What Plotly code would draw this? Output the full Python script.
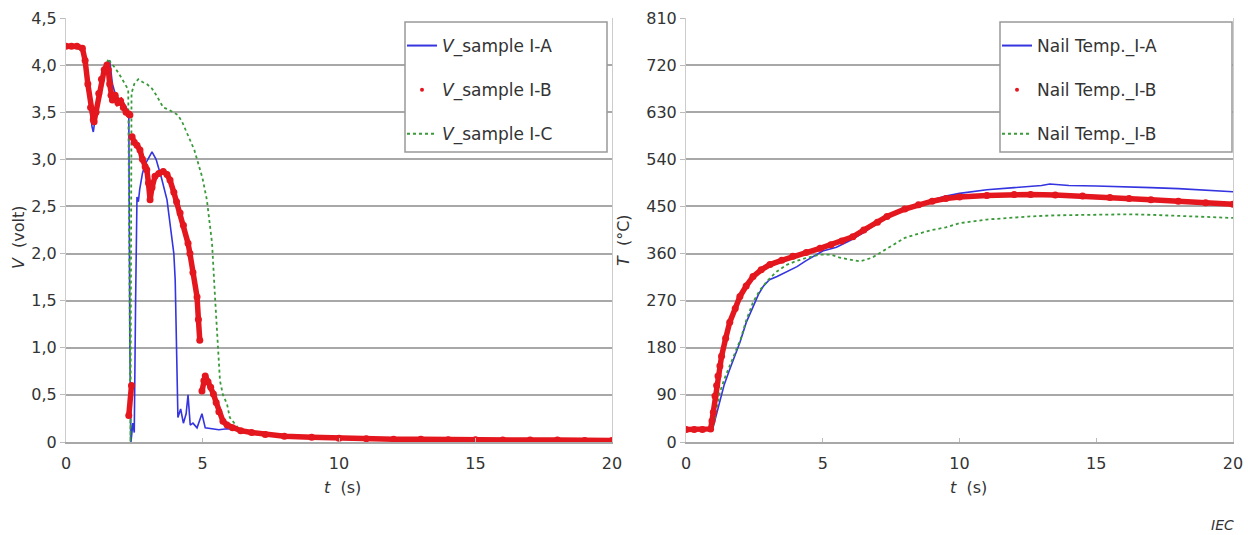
import plotly.graph_objects as go

# ---------------- data: left panel (voltage) ----------------
tA = [0, 0.3, 0.6, 0.8, 0.95, 1.0, 1.1, 1.3, 1.5, 1.6, 1.7, 1.8, 1.9, 2.0, 2.1, 2.2, 2.3, 2.34, 2.38, 2.45,
      2.5, 2.55, 2.6, 2.65, 2.7, 2.8, 2.9, 3.0, 3.15, 3.3, 3.5, 3.7, 3.9, 3.95, 4.0, 4.05, 4.1, 4.2, 4.3, 4.4,
      4.47, 4.55, 4.65, 4.8, 4.98, 5.1, 5.3, 5.6, 5.9, 6.2, 6.6, 7.0, 8, 9, 10, 12, 14, 16, 18, 20]
vA = [4.2, 4.2, 4.15, 3.8, 3.35, 3.29, 3.5, 3.8, 4.0, 4.05, 3.8, 3.7, 3.65, 3.62, 3.6, 3.55, 3.5, 1.0, 0.0, 0.2,
      0.1, 1.5, 2.6, 2.55, 2.68, 2.85, 2.95, 3.0, 3.08, 3.0, 2.8, 2.57, 2.1, 2.0, 1.72, 0.8, 0.26, 0.35, 0.2, 0.3,
      0.5, 0.18, 0.2, 0.15, 0.3, 0.15, 0.14, 0.13, 0.14, 0.13, 0.1, 0.08, 0.05, 0.04, 0.03, 0.02, 0.02, 0.02, 0.02, 0.02]

tB = [0, 0.2, 0.4, 0.6, 0.7, 0.8, 0.9, 1.0, 1.03, 1.1, 1.2, 1.3, 1.4, 1.5, 1.55, 1.6, 1.65, 1.7, 1.8, 1.9,
      2.0, 2.1, 2.2, 2.3, 2.34, None,
      2.30, 2.40, None,
      2.42, 2.5, 2.6, 2.71, 2.8, 2.9, 2.96, 3.02, 3.08, 3.15, 3.26, 3.4, 3.56, 3.7, 3.81, 3.95, 4.05, 4.18,
      4.3, 4.47, 4.54, 4.65, 4.8, 4.85, 4.9, None,
      4.98, 5.05, 5.1, 5.2, 5.3, 5.4, 5.5, 5.6, 5.75, 5.9, 6.1, 6.4, 6.8, 7.3, 8, 9, 10, 11, 12, 13, 14, 15,
      16, 17, 18, 19, 20]
vB = [4.2, 4.2, 4.2, 4.18, 4.05, 3.8, 3.55, 3.42, 3.4, 3.5, 3.7, 3.85, 3.95, 4.0, 3.95, 3.8, 3.68, 3.63, 3.68, 3.6,
      3.62, 3.55, 3.5, 3.48, 3.47, None,
      0.28, 0.6, None,
      3.24, 3.18, 3.15, 3.1, 3.0, 2.92, 2.89, 2.75, 2.57, 2.7, 2.82, 2.85, 2.87, 2.84, 2.78, 2.65, 2.55, 2.43,
      2.3, 2.11, 2.0, 1.8, 1.54, 1.3, 1.08, None,
      0.54, 0.65, 0.7, 0.64, 0.58, 0.51, 0.42, 0.32, 0.22, 0.18, 0.15, 0.12, 0.1, 0.08, 0.06, 0.05, 0.04, 0.035,
      0.03, 0.03, 0.025, 0.025, 0.02, 0.02, 0.02, 0.015, 0.015]

tC = [0, 0.3, 0.6, 0.8, 0.95, 1.03, 1.1, 1.3, 1.5, 1.55, 1.65, 1.8, 2.0, 2.15, 2.28, 2.33, 2.36, 2.40, 2.5,
      2.65, 2.8, 2.96, 3.15, 3.33, 3.56, 3.75, 3.92, 4.1, 4.25, 4.4, 4.54, 4.7, 4.84, 5.0, 5.16, 5.35, 5.45,
      5.58, 5.64, 5.75, 5.9, 6.0, 6.3, 6.7, 7.2, 8, 9, 10, 12, 14, 16, 18, 20]
vC = [4.2, 4.2, 4.15, 3.85, 3.5, 3.4, 3.55, 3.85, 4.02, 4.07, 4.02, 3.97, 3.88, 3.8, 3.74, 1.5, 0.0, 3.7, 3.8,
      3.85, 3.82, 3.8, 3.75, 3.67, 3.55, 3.53, 3.5, 3.47, 3.4, 3.3, 3.2, 3.1, 2.96, 2.8, 2.57, 2.11, 1.58,
      0.86, 0.65, 0.5, 0.4, 0.26, 0.15, 0.11, 0.09, 0.07, 0.05, 0.04, 0.03, 0.03, 0.02, 0.02, 0.02]

# ---------------- data: right panel (nail temperature) ----------------
sA = [0, 0.5, 0.9, 1.0, 1.1, 1.24, 1.4, 1.6, 1.8, 1.97, 2.2, 2.45, 2.65, 2.82, 3.05, 3.33, 3.7, 4.06, 4.35,
      4.65, 5.0, 5.5, 6.0, 6.5, 7.0, 7.5, 8.0, 8.5, 9.0, 9.5, 10, 11, 12, 13, 13.3, 14, 15, 16, 17, 18, 19, 20]
TA = [24, 24, 24, 30, 50, 82, 110, 139, 165, 190, 228, 259, 282, 297, 310, 316, 326, 335, 345,
      355, 365, 372, 385, 400, 418, 432, 445, 455, 463, 470, 475, 482, 486, 490, 493, 490, 489, 488, 486, 484, 481, 478]

sB = [0, 0.3, 0.6, 0.9, 0.95, 1.0, 1.06, 1.12, 1.17, 1.24, 1.3, 1.45, 1.6, 1.8, 1.97, 2.2, 2.45, 2.75, 3.07,
      3.5, 3.91, 4.4, 4.9, 5.3, 5.7, 6.1, 6.5, 7.0, 7.35, 8, 8.5, 9, 9.5, 10, 11, 12, 12.6, 13.5, 14.5, 15.5,
      16.2, 17, 18, 19, 20]
TB = [24, 24, 24, 25, 40, 57, 88, 108, 126, 145, 164, 198, 229, 255, 278, 298, 316, 329, 339,
      347, 355, 362, 370, 377, 384, 392, 405, 420, 431, 445, 453, 460, 465, 468, 471, 473, 473, 472, 470, 467,
      465, 463, 460, 457, 454]

sC = [0, 0.5, 0.9, 1.0, 1.1, 1.24, 1.4, 1.6, 1.8, 2.0, 2.2, 2.45, 2.7, 2.96, 3.3, 3.7, 4.05, 4.42, 4.9, 5.3,
      5.63, 6.0, 6.36, 6.8, 7.2, 7.6, 8, 8.5, 9, 9.5, 10, 11, 12, 12.6, 13.5, 14.5, 15.5, 16.2, 17, 18, 19, 20]
TC = [24, 24, 24, 30, 55, 95, 120, 145, 172, 197, 232, 267, 290, 307, 325, 339, 346, 352, 358, 358,
      352, 349, 345, 352, 365, 378, 390, 398, 405, 410, 418, 425, 429, 431, 433, 434, 435, 435, 434, 432, 430, 428]

x_ticks = [0, 5, 10, 15, 20]
v_ticks = [0, 0.5, 1.0, 1.5, 2.0, 2.5, 3.0, 3.5, 4.0, 4.5]
v_labels = ["0", "0,5", "1,0", "1,5", "2,0", "2,5", "3,0", "3,5", "4,0", "4,5"]
T_ticks = [0, 90, 180, 270, 360, 450, 540, 630, 720, 810]

names_left = ["<i>V</i>_sample I-A", "<i>V</i>_sample I-B", "<i>V</i>_sample I-C"]
names_right = ["Nail Temp._I-A", "Nail Temp._I-B", "Nail Temp._I-B"]

# ---------------- styling ----------------
W, H = 1248, 535
BLUE = "#3434e0"
RED = "#e4161e"
GREEN = "#3a9a3a"
GRID = "#a8a8a8"
TXT = "#333333"
FONT = "DejaVu Sans, Verdana, sans-serif"

def px(x):
    return x / W

def py(y):
    return 1 - y / H

fig = go.Figure()

def add_panel(xa, ya, legend, tb, yb, ta, yaa, tc, yc, names):
    fig.add_trace(go.Scatter(x=ta, y=yaa, mode="lines", line=dict(color=BLUE, width=1.6),
                             xaxis=xa, yaxis=ya, showlegend=False))
    fig.add_trace(go.Scatter(x=tc, y=yc, mode="lines", line=dict(color=GREEN, width=1.8, dash="dot"),
                             xaxis=xa, yaxis=ya, showlegend=False))
    fig.add_trace(go.Scatter(x=tb, y=yb, mode="lines+markers", line=dict(color=RED, width=5.5),
                             marker=dict(color=RED, size=7), connectgaps=False,
                             xaxis=xa, yaxis=ya, showlegend=False))
    # legend entries
    fig.add_trace(go.Scatter(x=[None], y=[None], mode="lines", line=dict(color=BLUE, width=2),
                             name=names[0], legend=legend, legendgroup=legend + "a",
                             xaxis=xa, yaxis=ya))
    fig.add_trace(go.Scatter(x=[None], y=[None], mode="markers", marker=dict(color=RED, size=4),
                             name=names[1], legend=legend, legendgroup=legend + "b",
                             xaxis=xa, yaxis=ya))
    fig.add_trace(go.Scatter(x=[None], y=[None], mode="lines", line=dict(color=GREEN, width=2, dash="dot"),
                             name=names[2], legend=legend, legendgroup=legend + "c",
                             xaxis=xa, yaxis=ya))

add_panel("x", "y", "legend", tB, vB, tA, vA, tC, vC, names_left)
add_panel("x2", "y2", "legend2", sB, TB, sA, TA, sC, TC, names_right)

ydom = [py(442), py(18)]
xaxis_common = dict(range=[0, 20], tickvals=x_ticks, showgrid=False, zeroline=False, automargin=False,
                    showline=True, linecolor=GRID, linewidth=2, ticks="inside", ticklen=4,
                    tickcolor="#bbbbbb", ticklabelstandoff=6,
                    tickfont=dict(family=FONT, size=16, color=TXT), fixedrange=True)
yaxis_common = dict(showgrid=True, gridcolor=GRID, gridwidth=2, zeroline=False, automargin=False,
                    showline=True, linecolor="#cccccc", linewidth=1, mirror=True,
                    ticks="outside", ticklen=5, tickcolor="#bbbbbb",
                    tickfont=dict(family=FONT, size=16, color=TXT), fixedrange=True)

legend_common = dict(xanchor="left", yanchor="top", bgcolor="rgba(0,0,0,0)", borderwidth=0,
                     tracegroupgap=19, font=dict(family=FONT, size=17, color=TXT))

fig.update_layout(
    width=W, height=H, margin=dict(l=0, r=0, t=0, b=0, autoexpand=False),
    paper_bgcolor="white", plot_bgcolor="white",
    font=dict(family=FONT, size=16, color=TXT),
    xaxis=dict(domain=[px(66), px(612)], anchor="y", **xaxis_common),
    yaxis=dict(domain=ydom, anchor="x", range=[0, 4.5], tickvals=v_ticks, ticktext=v_labels, **yaxis_common),
    xaxis2=dict(domain=[px(686), px(1233)], anchor="y2", **xaxis_common),
    yaxis2=dict(domain=ydom, anchor="x2", range=[0, 810], tickvals=T_ticks, **yaxis_common),
    legend=dict(x=px(402), y=py(28), **legend_common),
    legend2=dict(x=px(997), y=py(28), **legend_common),
    shapes=[
        dict(type="rect", xref="paper", yref="paper", x0=px(405), x1=px(607), y0=py(152), y1=py(22),
             fillcolor="white", line=dict(color="#999999", width=1.5), layer="above"),
        dict(type="rect", xref="paper", yref="paper", x0=px(1000), x1=px(1232), y0=py(152), y1=py(22),
             fillcolor="white", line=dict(color="#999999", width=1.5), layer="above"),
    ],
    annotations=[
        dict(text="<i>V</i>  (volt)", x=px(18), y=py(237), xref="paper", yref="paper", textangle=-90,
             xanchor="center", yanchor="middle",
             showarrow=False, font=dict(family=FONT, size=16, color=TXT)),
        dict(text="<i>T</i>  (°C)", x=px(623), y=py(240), xref="paper", yref="paper", textangle=-90,
             xanchor="center", yanchor="middle",
             showarrow=False, font=dict(family=FONT, size=16, color=TXT)),
        dict(text="<i>t</i>  (s)", x=px(342), y=py(488), xref="paper", yref="paper",
             xanchor="center", yanchor="middle",
             showarrow=False, font=dict(family=FONT, size=16, color=TXT)),
        dict(text="<i>t</i>  (s)", x=px(968), y=py(488), xref="paper", yref="paper",
             xanchor="center", yanchor="middle",
             showarrow=False, font=dict(family=FONT, size=16, color=TXT)),
        dict(text="<i>IEC</i>", x=px(1222), y=py(525), xref="paper", yref="paper",
             xanchor="center", yanchor="middle",
             showarrow=False, font=dict(family=FONT, size=14, color=TXT)),
    ],
)

fig.write_html("out.html")
